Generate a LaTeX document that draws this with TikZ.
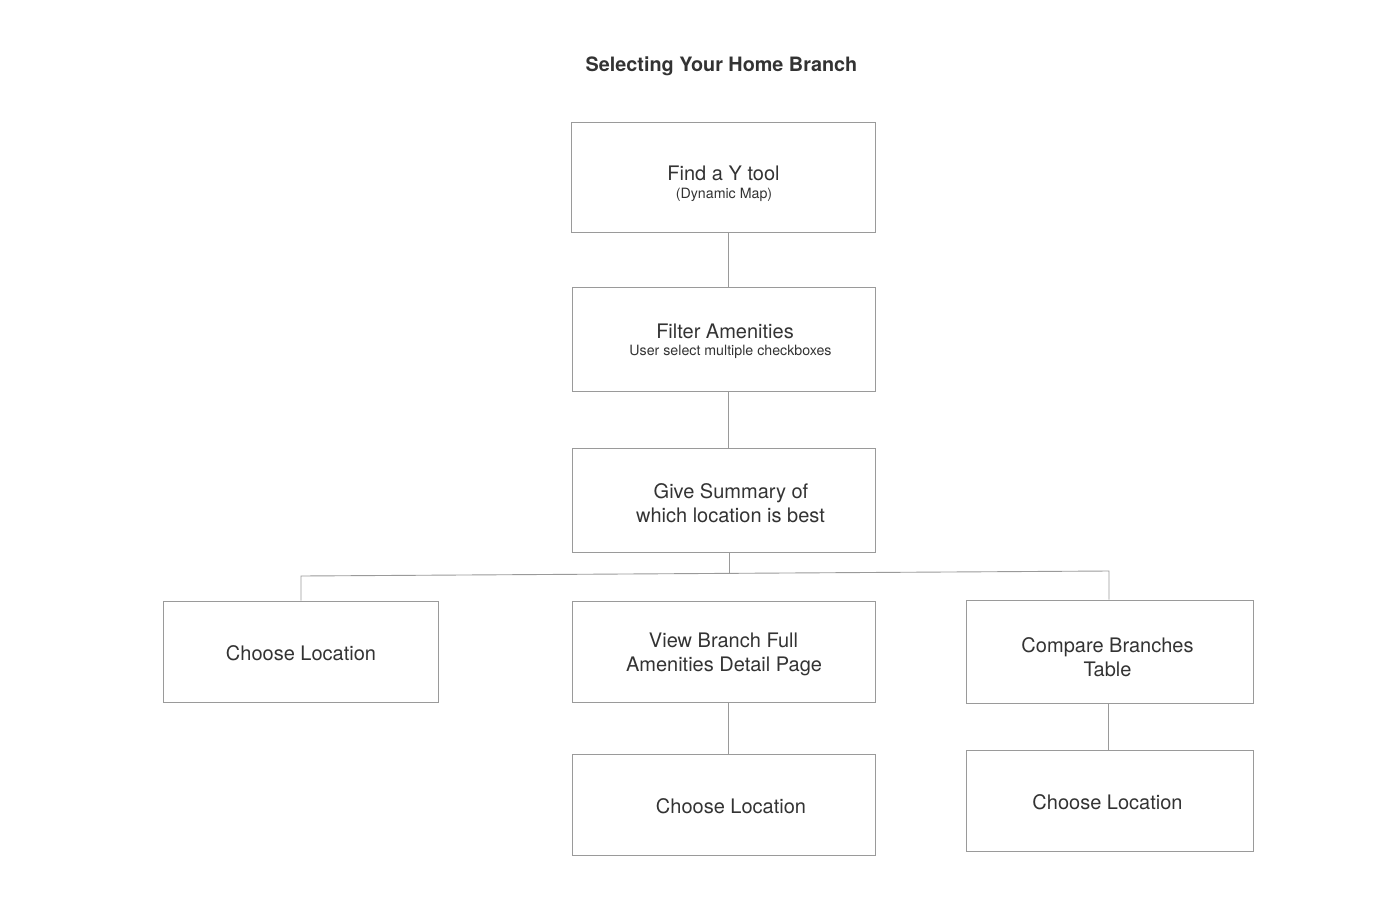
\documentclass[tikz,border=0pt]{standalone}
\usepackage{fontspec}
\setmainfont{TeX Gyre Heros}
\definecolor{boxgray}{HTML}{9A9A9A}
\definecolor{txt}{HTML}{333333}
\begin{document}
\begin{tikzpicture}[x=1pt,y=-1pt,
  box/.style={draw=boxgray, line width=0.9pt, inner sep=0pt},
  big/.style={font=\fontsize{20}{24}\selectfont, text=txt, anchor=base, inner sep=0pt},
  small/.style={font=\fontsize{14.2}{16}\selectfont, text=txt, anchor=base, inner sep=0pt},
  ttl/.style={font=\fontsize{19.8}{24}\selectfont\bfseries, text=txt, anchor=base, inner sep=0pt},
  conn/.style={draw=boxgray, line width=0.9pt}]
\useasboundingbox (0,0) rectangle (1387,908);

% title
\node[ttl] (title) at (721.5,71) {Selecting Your Home Branch};

% boxes
\node[box, minimum width=304pt, minimum height=110pt] (b1) at (723,177) {};
\node[box, minimum width=303pt, minimum height=104pt] (b2) at (723.5,339) {};
\node[box, minimum width=303pt, minimum height=104pt] (b3) at (723.5,500) {};
\node[box, minimum width=275pt, minimum height=101pt] (b4) at (300.5,651.5) {};
\node[box, minimum width=303pt, minimum height=101pt] (b5) at (723.5,651.5) {};
\node[box, minimum width=287pt, minimum height=103pt] (b6) at (1109.5,651.5) {};
\node[box, minimum width=303pt, minimum height=101pt] (b7) at (723.5,804.5) {};
\node[box, minimum width=287pt, minimum height=101pt] (b8) at (1109.5,800.5) {};

% texts
\node[big] (t1a) at (723.5,180) {Find a Y tool};
\node[small] (t1b) at (724,198) {(Dynamic Map)};
\node[big] (t2a) at (725,338) {Filter Amenities};
\node[small] (t2b) at (730.5,355) {User select multiple checkboxes};
\node[big] (t3a) at (731,498) {Give Summary of};
\node[big] (t3b) at (730.5,522) {which location is best};
\node[big] (t4) at (301,660) {Choose Location};
\node[big] (t5a) at (723.5,647) {View Branch Full};
\node[big] (t5b) at (724,671) {Amenities Detail Page};
\node[big] (t6a) at (1107.5,652) {Compare Branches};
\node[big] (t6b) at (1107.5,676) {Table};
\node[big] (t7) at (731,813) {Choose Location};
\node[big] (t8) at (1107.5,809) {Choose Location};

% connector coordinates
\coordinate (cx) at (728,0);
\coordinate (cx3) at (729,0);
\coordinate (cxr) at (1108,0);
\coordinate (jl) at (301,576);
\coordinate (jr) at (1109,571);
\coordinate (jm) at (729,573.5);

% connectors
\draw[conn] (b1.south -| cx) -- (b2.north -| cx);
\draw[conn] (b2.south -| cx) -- (b3.north -| cx);
\draw[conn] (b3.south -| cx3) -- (jm);
\draw[conn] (b4.north -| jl) -- (jl) -- (jr) -- (b6.north -| jr);
\draw[conn] (b5.south -| cx) -- (b7.north -| cx);
\draw[conn] (b6.south -| cxr) -- (b8.north -| cxr);
\end{tikzpicture}
\end{document}
